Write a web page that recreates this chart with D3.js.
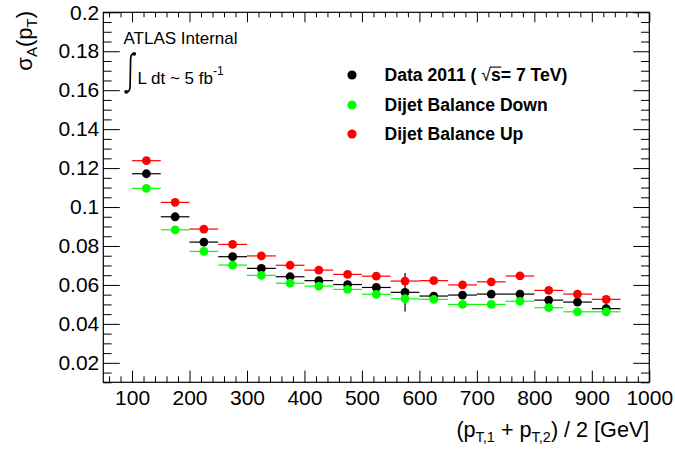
<!DOCTYPE html>
<html>
<head>
<meta charset="utf-8">
<script src="https://cdn.jsdelivr.net/npm/d3@7"></script>
<style>
  html, body { margin: 0; padding: 0; background: #fff; }
  svg { display: block; font-family: "Liberation Sans", Arial, Helvetica, sans-serif; }
</style>
</head>
<body>
<svg id="chart" width="675" height="454"></svg>
<script>
// Bin centres of the average dijet pT, 50 GeV wide bins
const binCenters = [125, 175, 225, 275, 325, 375, 425, 475, 525, 575, 625, 675, 725, 775, 825, 875, 925];
const binHalfWidth = 25;

// Asymmetry resolution per bin
const data2011      = [0.1171, 0.0950, 0.0820, 0.0745, 0.0685, 0.0642, 0.0622, 0.0602, 0.0587, 0.0562, 0.0543, 0.0548, 0.0553, 0.0553, 0.0522, 0.0512, 0.0478];
const data2011Err   = [0.0008, 0.0008, 0.0008, 0.0008, 0.0008, 0.0010, 0.0010, 0.0012, 0.0012, 0.0099, 0.0015, 0.0015, 0.0015, 0.0015, 0.0018, 0.0020, 0.0030];
const balanceDown   = [0.1096, 0.0883, 0.0772, 0.0702, 0.0649, 0.0609, 0.0594, 0.0577, 0.0552, 0.0529, 0.0526, 0.0500, 0.0500, 0.0516, 0.0483, 0.0462, 0.0462];
const balanceUp     = [0.1238, 0.1024, 0.0887, 0.0808, 0.0749, 0.0701, 0.0676, 0.0654, 0.0645, 0.0620, 0.0622, 0.0600, 0.0616, 0.0646, 0.0572, 0.0553, 0.0526];
const sysErr        = [0.0005, 0.0005, 0.0005, 0.0005, 0.0005, 0.0005, 0.0005, 0.0005, 0.0005, 0.0005, 0.0005, 0.0005, 0.0005, 0.0005, 0.0005, 0.0005, 0.0005];

// Axis ticks
const xMajorTicks = [100, 200, 300, 400, 500, 600, 700, 800, 900, 1000];
const xMinorTicks = [60, 80, 120, 140, 160, 180, 220, 240, 260, 280, 320, 340, 360, 380, 420, 440, 460, 480, 520, 540, 560, 580, 620, 640, 660, 680, 720, 740, 760, 780, 820, 840, 860, 880, 920, 940, 960, 980];
const yMajorTicks = [0.02, 0.04, 0.06, 0.08, 0.1, 0.12, 0.14, 0.16, 0.18, 0.2];
const yMinorTicks = [0.01, 0.015, 0.025, 0.03, 0.035, 0.045, 0.05, 0.055, 0.065, 0.07, 0.075, 0.085, 0.09, 0.095, 0.105, 0.11, 0.115, 0.125, 0.13, 0.135, 0.145, 0.15, 0.155, 0.165, 0.17, 0.175, 0.185, 0.19, 0.195];

const series = [
  { name: "Data 2011", values: data2011, err: data2011Err, color: "#000000" },
  { name: "Dijet Balance Down", values: balanceDown, err: sysErr, color: "#00ff00" },
  { name: "Dijet Balance Up", values: balanceUp, err: sysErr, color: "#ff0000" }
];

const frame = { left: 103.3, right: 649.3, top: 12.3, bottom: 382.3 };
const svg = d3.select("#chart");

const x = d3.scaleLinear().domain([50, 1000]).range([frame.left, frame.right]);
const y = d3.scaleLinear().domain([0.01, 0.2]).range([frame.bottom, frame.top]);

const fmtY = d => String(+d.toFixed(3));

function styleAxis(g) {
  g.select(".domain").remove();
  g.selectAll(".tick line").attr("stroke", "#000").attr("stroke-width", 1);
  g.selectAll("text").attr("fill", "#000").style("font-size", "21px")
    .style("font-family", "'Liberation Sans', Arial, Helvetica, sans-serif");
}

// Bottom axis: major + minor ticks pointing inward
svg.append("g").attr("transform", `translate(0,${frame.bottom})`)
  .call(d3.axisBottom(x).tickValues(xMajorTicks).tickSize(-11.7).tickPadding(7.8).tickFormat(d3.format("d")))
  .call(styleAxis);
svg.append("g").attr("transform", `translate(0,${frame.bottom})`)
  .call(d3.axisBottom(x).tickValues(xMinorTicks).tickSize(-6).tickFormat(""))
  .call(styleAxis);
// Top axis
svg.append("g").attr("transform", `translate(0,${frame.top})`)
  .call(d3.axisTop(x).tickValues(xMajorTicks).tickSize(-10).tickFormat(""))
  .call(styleAxis);
svg.append("g").attr("transform", `translate(0,${frame.top})`)
  .call(d3.axisTop(x).tickValues(xMinorTicks).tickSize(-5).tickFormat(""))
  .call(styleAxis);

// Left axis
svg.append("g").attr("transform", `translate(${frame.left},0)`)
  .call(d3.axisLeft(y).tickValues(yMajorTicks).tickSize(-16.5).tickPadding(4).tickFormat(fmtY))
  .call(styleAxis);
svg.append("g").attr("transform", `translate(${frame.left},0)`)
  .call(d3.axisLeft(y).tickValues(yMinorTicks).tickSize(-8.3).tickFormat(""))
  .call(styleAxis);
// Right axis
svg.append("g").attr("transform", `translate(${frame.right},0)`)
  .call(d3.axisRight(y).tickValues(yMajorTicks).tickSize(-16).tickFormat(""))
  .call(styleAxis);
svg.append("g").attr("transform", `translate(${frame.right},0)`)
  .call(d3.axisRight(y).tickValues(yMinorTicks).tickSize(-8.3).tickFormat(""))
  .call(styleAxis);

// Frame
svg.append("rect")
  .attr("x", frame.left).attr("y", frame.top)
  .attr("width", frame.right - frame.left).attr("height", frame.bottom - frame.top)
  .attr("fill", "none").attr("stroke", "#000").attr("stroke-width", 1.2);

// Points with horizontal bin-width bars and vertical error bars
const markerR = 4.4;
series.forEach(s => {
  const g = svg.append("g").attr("class", "series");
  const pts = binCenters.map((c, i) => ({ c, v: s.values[i], e: s.err[i] }));
  g.selectAll("line.h").data(pts).join("line").attr("class", "h")
    .attr("x1", d => x(d.c - binHalfWidth)).attr("x2", d => x(d.c + binHalfWidth))
    .attr("y1", d => y(d.v)).attr("y2", d => y(d.v))
    .attr("stroke", s.color).attr("stroke-width", 1.2);
  g.selectAll("line.v").data(pts).join("line").attr("class", "v")
    .attr("x1", d => x(d.c)).attr("x2", d => x(d.c))
    .attr("y1", d => y(d.v - d.e)).attr("y2", d => y(d.v + d.e))
    .attr("stroke", s.color).attr("stroke-width", 1.2);
  g.selectAll("circle").data(pts).join("circle")
    .attr("cx", d => x(d.c)).attr("cy", d => y(d.v)).attr("r", markerR)
    .attr("fill", s.color);
});

// Experiment label
svg.append("text").attr("x", 123.5).attr("y", 43.5)
  .style("font-size", "17px").attr("fill", "#000").text("ATLAS Internal");

// Integral sign
svg.append("path")
  .attr("d", "M133.7,53.6 C131.2,53.6 130.6,56 130.6,60 L130.1,86 C130.1,90 129,92 126.4,92")
  .attr("fill", "none").attr("stroke", "#000").attr("stroke-width", 1.7);
svg.append("circle").attr("cx", 134.2).attr("cy", 53.8).attr("r", 1.9).attr("fill", "#000");
svg.append("circle").attr("cx", 126.2).attr("cy", 91.8).attr("r", 1.9).attr("fill", "#000");

const lumi = svg.append("text").attr("x", 137.5).attr("y", 84).style("font-size", "17px").attr("fill", "#000");
lumi.append("tspan").text("L dt ~ 5 fb");
lumi.append("tspan").attr("dy", -9).style("font-size", "12px").text("-1");

// Legend
const legendY = [75, 105, 134];
const legend = svg.append("g");
series.forEach((s, i) => {
  legend.append("circle").attr("cx", 352).attr("cy", legendY[i]).attr("r", 4.6).attr("fill", s.color);
});
const boldStyle = t => t.style("font-size", "17.6px").style("font-weight", "bold").attr("fill", "#000");
const l0 = legend.append("text").attr("x", 384.5).attr("y", legendY[0] + 6.3).call(boldStyle);
l0.append("tspan").text("Data 2011 ( ");
l0.append("tspan").style("font-weight", "normal").text("\u221A");
l0.append("tspan").text("s");
l0.append("tspan").text("= 7 TeV)");
// overbar of the square root across "s"
{
  const node = l0.node();
  const nRoot = "Data 2011 ( ".length;
  const endS = node.getEndPositionOfChar(nRoot + 1);
  const top = legendY[0] + 6.3 - 14.2;
  legend.append("line")
    .attr("x1", node.getEndPositionOfChar(nRoot).x - 1).attr("x2", endS.x + 0.5)
    .attr("y1", top).attr("y2", top).attr("stroke", "#000").attr("stroke-width", 1.1);
}
legend.append("text").attr("x", 384.5).attr("y", legendY[1] + 6.3).call(boldStyle).text("Dijet Balance Down");
legend.append("text").attr("x", 384.5).attr("y", legendY[2] + 6.3).call(boldStyle).text("Dijet Balance Up");

// Axis titles
const xt = svg.append("text").attr("x", frame.right).attr("y", 437).attr("text-anchor", "end")
  .style("font-size", "21.6px").attr("fill", "#000");
xt.append("tspan").text("(p");
xt.append("tspan").attr("dy", 5).style("font-size", "14.5px").text("T,1");
xt.append("tspan").attr("dy", -5).text(" + p");
xt.append("tspan").attr("dy", 5).style("font-size", "14.5px").text("T,2");
xt.append("tspan").attr("dy", -5).text(") / 2 [GeV]");

const yt = svg.append("text").attr("transform", "translate(32,11) rotate(-90)").attr("text-anchor", "end")
  .style("font-size", "22px").attr("fill", "#000");
yt.append("tspan").text("\u03C3");
yt.append("tspan").attr("dy", 5).style("font-size", "15px").text("A");
yt.append("tspan").attr("dy", -5).text("(p");
yt.append("tspan").attr("dy", 5).style("font-size", "15px").text("T");
yt.append("tspan").attr("dy", -5).text(")");
</script>
</body>
</html>
